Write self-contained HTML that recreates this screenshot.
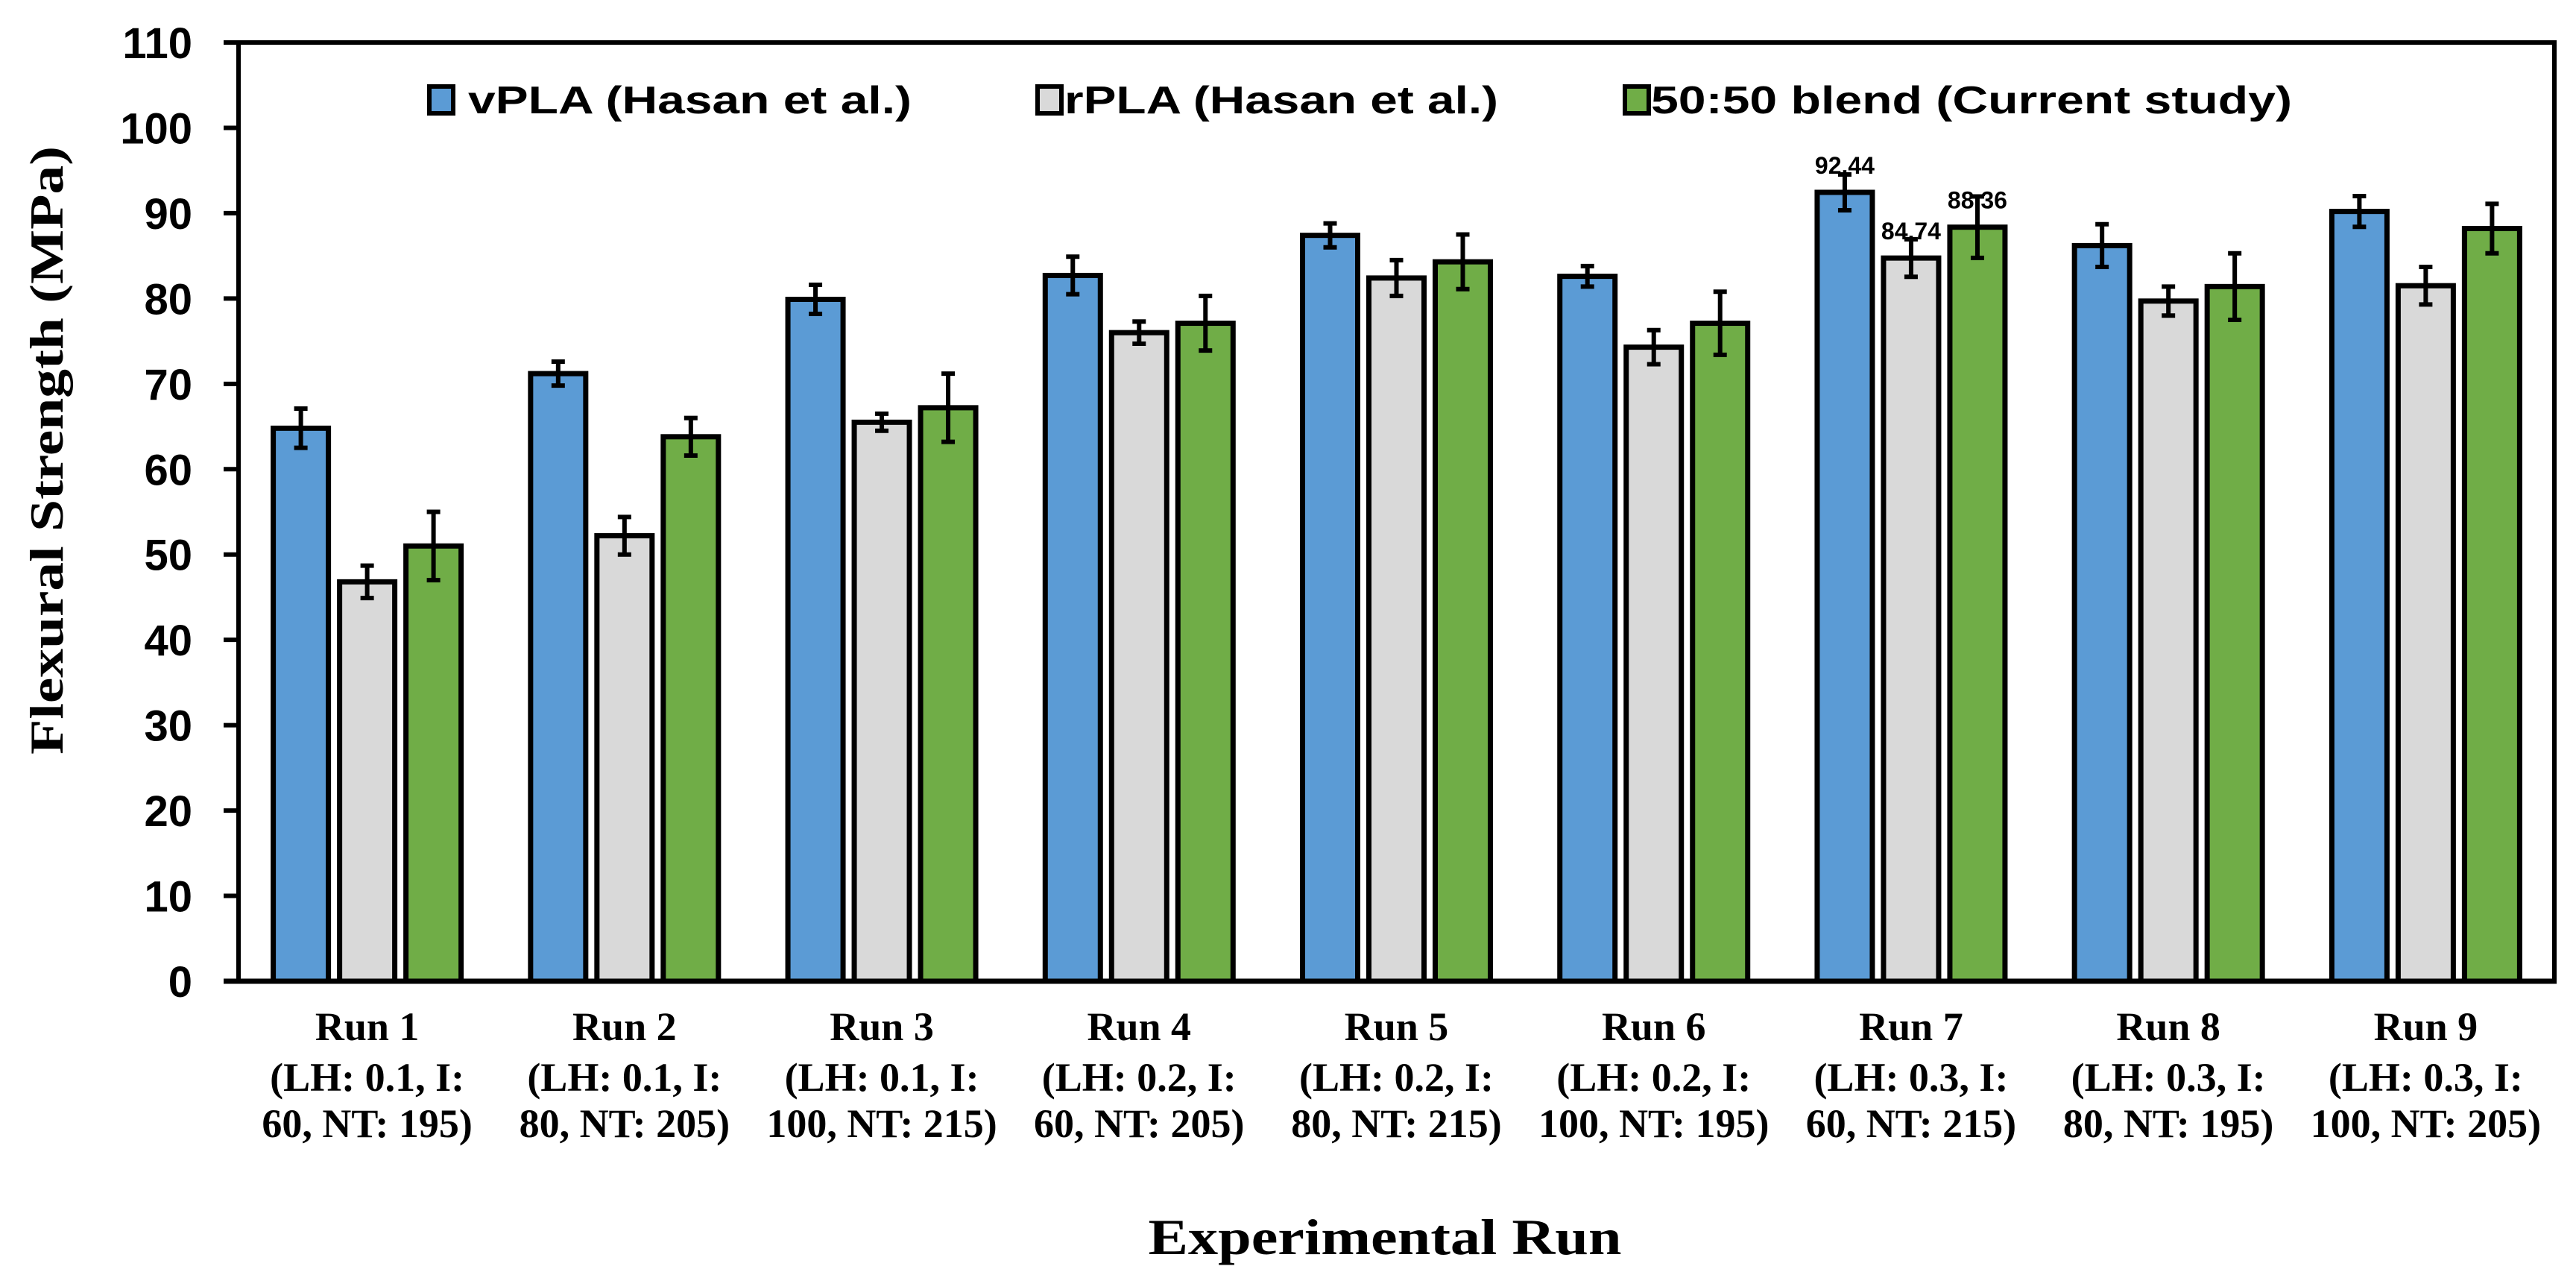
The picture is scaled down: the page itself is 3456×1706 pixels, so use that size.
<!DOCTYPE html>
<html><head><meta charset="utf-8"><style>
html,body{margin:0;padding:0;background:#fff;}
svg{display:block;}
</style></head><body>
<svg id="chart" width="3456" height="1706" viewBox="0 0 3456 1706" xmlns="http://www.w3.org/2000/svg">
<g id="plot"></g>
</svg>
<script>
const categories = ["Run 1","Run 2","Run 3","Run 4","Run 5","Run 6","Run 7","Run 8","Run 9"];
const subLabels1 = ["(LH: 0.1, I:","(LH: 0.1, I:","(LH: 0.1, I:","(LH: 0.2, I:","(LH: 0.2, I:","(LH: 0.2, I:","(LH: 0.3, I:","(LH: 0.3, I:","(LH: 0.3, I:"];
const subLabels2 = ["60, NT: 195)","80, NT: 205)","100, NT: 215)","60, NT: 205)","80, NT: 215)","100, NT: 195)","60, NT: 215)","80, NT: 195)","100, NT: 205)"];
const seriesNames = ["vPLA (Hasan et al.)","rPLA (Hasan et al.)","50:50 blend (Current study)"];
const vPLA = [64.8,71.2,79.9,82.7,87.4,82.6,92.44,86.2,90.2];
const rPLA = [46.8,52.2,65.5,76.0,82.4,74.3,84.74,79.7,81.5];
const blend = [51.0,63.8,67.2,77.1,84.3,77.1,88.36,81.4,88.2];
const vPLAErr = [2.3,1.4,1.7,2.2,1.4,1.2,2.1,2.5,1.8];
const rPLAErr = [1.9,2.2,1.0,1.3,2.1,2.0,2.2,1.7,2.2];
const blendErr = [4.0,2.2,4.0,3.2,3.2,3.7,3.6,3.9,2.9];
const yTicks = [0,10,20,30,40,50,60,70,80,90,100,110];
const labeledRun = 6;

const NS="http://www.w3.org/2000/svg";
const g=document.getElementById('plot');
const X0=320,X1=3427,Y0=1316,Y1=57,YMAX=110;
const y=v=>Y0-(v/YMAX)*(Y0-Y1);
const groupW=(X1-X0)/categories.length;
const xc=i=>X0+groupW*(i+0.5);
function mk(tag,attrs,parent){const e=document.createElementNS(NS,tag);for(const k in attrs)e.setAttribute(k,attrs[k]);(parent||g).appendChild(e);return e;}

const series=[vPLA,rPLA,blend];
const errs=[vPLAErr,rPLAErr,blendErr];
const fills=["#5B9BD5","#D9D9D9","#70AD47"];
const keys=["vpla","rpla","blend"];
const pitch=89,bw=74;

// ticks
yTicks.forEach(t=>{
  const l=mk('line',{x1:300,x2:X0,y1:y(t),y2:y(t),stroke:'#000','stroke-width':6});
  
  
  const tx=mk('text',{x:258,y:y(t)+21,'text-anchor':'end','font-family':'Liberation Sans, sans-serif','font-weight':'bold','font-size':58});
  tx.textContent=t;
  
  
});

// bars
categories.forEach((c,i)=>{
  series.forEach((s,k)=>{
    const cx=xc(i)+(k-1)*pitch;
    const top=y(s[i]);
    const r=mk('rect',{x:cx-bw/2,y:top,width:bw,height:Y0-top,fill:fills[k],stroke:'#000','stroke-width':7});
    
    
    const e=errs[k][i];
    const eg=mk('g',{stroke:'#000','stroke-width':6});
    
    
    mk('line',{x1:cx,x2:cx,y1:y(s[i]+e),y2:y(s[i]-e)},eg);
    mk('line',{x1:cx-9,x2:cx+9,y1:y(s[i]+e),y2:y(s[i]+e)},eg);
    mk('line',{x1:cx-9,x2:cx+9,y1:y(s[i]-e),y2:y(s[i]-e)},eg);
    if(i===labeledRun){
      const dl=mk('text',{x:cx,y:top-25,'text-anchor':'middle','font-family':'Liberation Sans, sans-serif','font-weight':'bold','font-size':32});
      dl.textContent=s[i].toFixed(2);
      
      
    }
  });
  const lines=[c,subLabels1[i],subLabels2[i]];
  const ys=[1395,1463,1525];
  lines.forEach((t,j)=>{
    const tx=mk('text',{x:xc(i),y:ys[j],'text-anchor':'middle','font-family':'Liberation Serif, serif','font-weight':'bold','font-size':54});
    tx.textContent=t;
    
    
  });
});

// frame
const fr=mk('rect',{x:X0,y:Y1,width:X1-X0,height:Y0-Y1,fill:'none',stroke:'#000','stroke-width':6});


const ax=mk('line',{x1:300,x2:X1+3,y1:Y0,y2:Y0,stroke:'#000','stroke-width':7});



// legend
const legX=[576,1392,2180],legTX=[628,1428,2215],legW=[595,582,860];
seriesNames.forEach((n,k)=>{
  const lg=mk('g',{});
  
  
  mk('rect',{x:legX[k],y:116,width:32,height:36,fill:fills[k],stroke:'#000','stroke-width':6},lg);
  const t=mk('text',{x:legTX[k],y:152,'font-family':'Liberation Sans, sans-serif','font-weight':'bold','font-size':52,textLength:legW[k],lengthAdjust:'spacingAndGlyphs'},lg);
  t.textContent=n;
});

// axis titles
const yt=mk('text',{x:0,y:0,transform:'translate(84,604) rotate(-90)','text-anchor':'middle','font-family':'Liberation Serif, serif','font-weight':'bold','font-size':64,textLength:816,lengthAdjust:'spacingAndGlyphs'});
yt.textContent='Flexural Strength (MPa)';


const xt=mk('text',{x:1858,y:1682,'text-anchor':'middle','font-family':'Liberation Serif, serif','font-weight':'bold','font-size':68,textLength:635,lengthAdjust:'spacingAndGlyphs'});
xt.textContent='Experimental Run';


</script>
</body></html>
